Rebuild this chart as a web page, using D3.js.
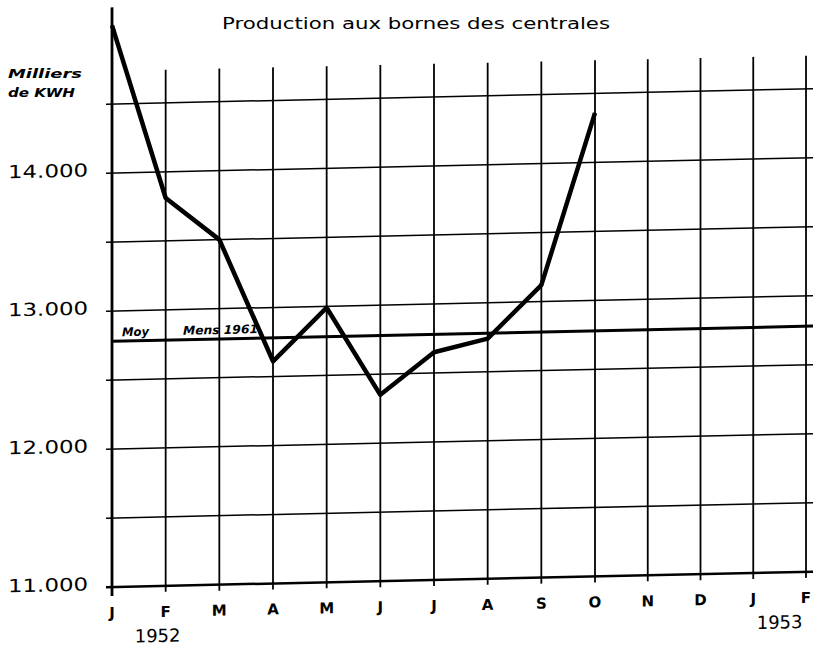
<!DOCTYPE html>
<head>
    <meta charset="utf-8">
    <style>
        body { margin: 0; background: #fff; }
        svg { position: absolute; top: 0; left: 0; }
        text { font-family: 'DejaVu Sans', sans-serif; fill: #000; }
        .title { font-size: 16px; }
        .unit, .avg-label { font-style: italic; font-weight: bold; font-size: 12px; }
        .y-label { font-size: 18px; }
        .x-label { font-size: 15px; font-weight: bold; text-anchor: middle; }
        .year { font-size: 18px; text-anchor: middle; }
        .grid line { stroke: #000; }
    </style>
    <script src="https://d3js.org/d3.v7.min.js"></script>
</head>
<body>
<script>
    ////////////// Data //////////////

    //months from Jan 1952 to Feb 1953
    const months = ["J", "F", "M", "A", "M", "J", "J", "A", "S", "O", "N", "D", "J", "F"]
    //production, thousands of kWh, Jan to Oct 1952
    const production = [15070, 13810, 13500, 12610, 12990, 12350, 12650, 12740, 13120, 14360]
    //monthly average of the previous year
    const average = 12780
    const averageWords = ["Moy", "Mens 1961"]
    const gridValues = [11000, 11500, 12000, 12500, 13000, 13500, 14000, 14500]
    const tickValues = [11000, 12000, 13000, 14000]
    const tickLabels = ["11.000", "12.000", "13.000", "14.000"]
    const years = ["1952", "1953"]
    const yearAt = [0.85, 12.5]

    ////////////// SVG //////////////

    const W = 817, H = 647
    const margin = { top: 35, left: 112 }
    const width = 694, height = 552

    const svg = d3.select("body").append("svg")
        .attr("width", W).attr("height", H)

    //the scanned sheet is slightly sheared: lines rise to the right
    const g = svg.append("g")
        .attr("transform", "translate(" + margin.left + "," + margin.top + ") skewY(-1.25)")

    ////////////// Scales //////////////

    //hand ruled columns: the first nine are a little wider than the rest
    const x = d3.scaleLinear().domain([0, 9, months.length - 1]).range([0, 483, width])
    const y = d3.scaleLinear().domain([11000, 15000]).range([height, 0])

    ////////////// Grid //////////////

    const grid = g.append("g").attr("class", "grid")

    grid.selectAll(".h").data(gridValues).join("line")
        .attr("x1", -6).attr("x2", width + 7)
        .attr("y1", d => y(d)).attr("y2", d => y(d))
        .attr("stroke-width", d => d === 11000 ? 2.5 : 1.5)

    grid.selectAll(".v").data(months).join("line")
        .attr("x1", (d, i) => x(i)).attr("x2", (d, i) => x(i))
        .attr("y1", (d, i) => i === 0 ? y(15200) : y(14740))
        .attr("y2", (d, i) => y(11000) + (i === 0 ? 9 : 6))
        .attr("stroke-width", (d, i) => i === 0 ? 2.8 : 1.8)

    ////////////// Average line //////////////

    g.append("line")
        .attr("x1", 0).attr("x2", width + 7)
        .attr("y1", y(average)).attr("y2", y(average))
        .attr("stroke", "#000").attr("stroke-width", 3)

    g.append("text").attr("class", "avg-label")
        .attr("x", 10).attr("y", y(average) - 5)
        .attr("textLength", 27).attr("lengthAdjust", "spacingAndGlyphs")
        .text(averageWords[0])
    g.append("text").attr("class", "avg-label")
        .attr("x", 71).attr("y", y(average) - 5)
        .attr("textLength", 75).attr("lengthAdjust", "spacingAndGlyphs")
        .text(averageWords[1])

    ////////////// Production line //////////////

    g.append("path")
        .datum(production)
        .attr("fill", "none")
        .attr("stroke", "#000")
        .attr("stroke-width", 4.5)
        .attr("stroke-linejoin", "round")
        .attr("d", d3.line().x((d, i) => x(i)).y(d => y(d)))

    ////////////// Axis labels //////////////

    g.selectAll(".x-label").data(months).join("text")
        .attr("class", "x-label")
        .attr("x", (d, i) => x(i))
        .attr("y", y(11000) + 31)
        .text(d => d)

    g.selectAll(".year").data(years).join("text")
        .attr("class", "year")
        .attr("x", (d, i) => x(yearAt[i]))
        .attr("y", y(11000) + 56)
        .text(d => d)

    g.selectAll(".y-label").data(tickValues).join("text")
        .attr("class", "y-label")
        .attr("x", -104)
        .attr("y", d => y(d) + 3)
        .attr("textLength", 80).attr("lengthAdjust", "spacingAndGlyphs")
        .text((d, i) => tickLabels[i])

    ////////////// Titles //////////////

    svg.append("text").attr("class", "title")
        .attr("x", 222).attr("y", 29)
        .attr("textLength", 388).attr("lengthAdjust", "spacingAndGlyphs")
        .text("Production aux bornes des centrales")

    svg.append("text").attr("class", "unit")
        .attr("x", 8).attr("y", 78)
        .attr("textLength", 74).attr("lengthAdjust", "spacingAndGlyphs")
        .text("Milliers")
    svg.append("text").attr("class", "unit")
        .attr("x", 8).attr("y", 97)
        .attr("textLength", 67).attr("lengthAdjust", "spacingAndGlyphs")
        .text("de KWH")
</script>
</body>
